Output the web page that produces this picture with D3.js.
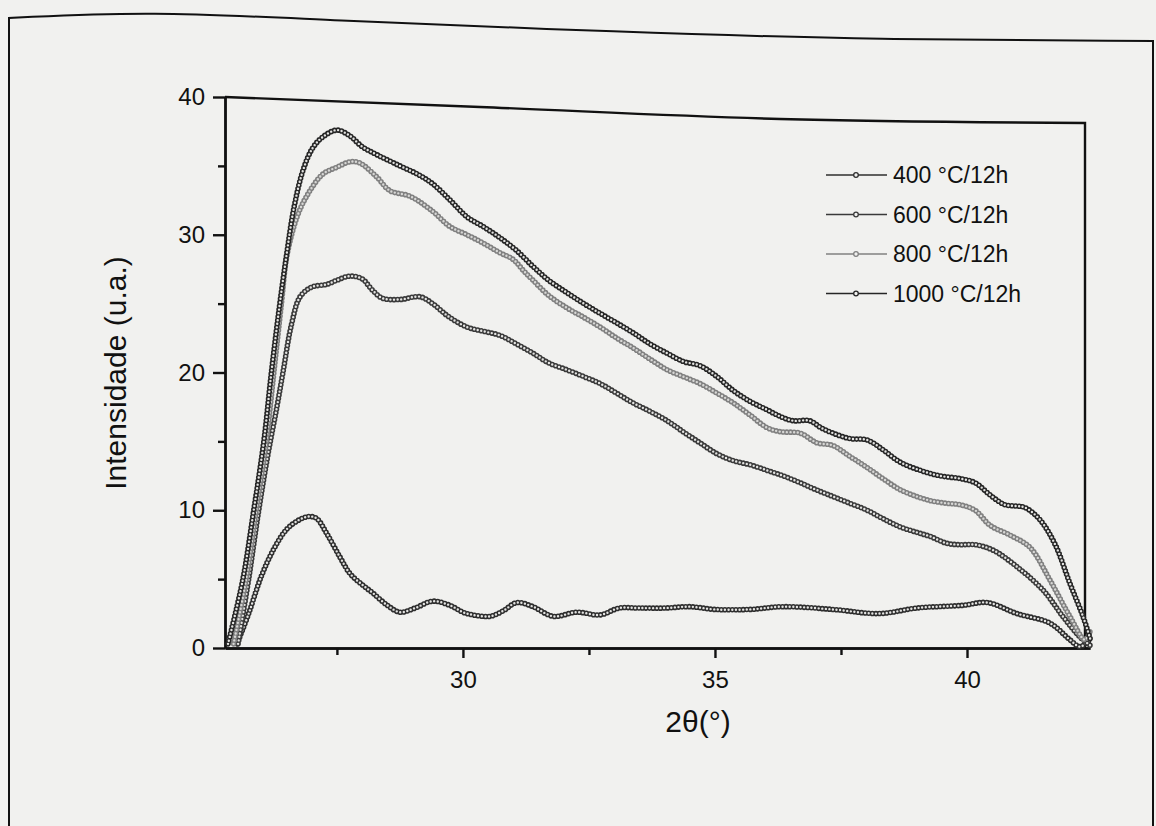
<!DOCTYPE html>
<html>
  <head>
    <meta charset="utf-8">
    <title>Intensidade x 2theta</title>
    <script src="https://d3js.org/d3.v7.min.js"></script>
    <style>
      body { margin: 0; background: #f1f1ef; }
      svg { display: block; font-family: "Liberation Sans", Arial, sans-serif; }
      .axis path, .axis line { stroke: #111; stroke-width: 2.4; }
      .axis text { font-family: "Liberation Sans", Arial, sans-serif; font-size: 24px; fill: #111; }
      .legend text { font-size: 23px; fill: #111; }
      .label { font-size: 30px; fill: #111; }
    </style>
  </head>
  <body>
    <script>
      // series names
      var seriesNames = ["400 °C/12h", "600 °C/12h", "800 °C/12h", "1000 °C/12h"];
      var seriesColors = ["#2e2e2e", "#3a3a3a", "#808080", "#262626"];

      // 2theta values and intensities
      var t400 = [25.52, 25.75, 26.0, 26.25, 26.5, 26.75, 26.95, 27.1, 27.3, 27.56, 27.76, 28.0, 28.21, 28.5, 28.75, 29.05, 29.4, 29.74, 30.0, 30.2, 30.54, 30.8, 31.07, 31.39, 31.79, 32.26, 32.72, 33.1, 33.5, 34.0, 34.5, 35.0, 35.69, 36.35, 37.34, 38.27, 39.0, 39.92, 40.4, 40.99, 41.65, 42.04, 42.24, 42.44];
      var i400 = [0.3, 2.5, 5.2, 7.2, 8.6, 9.3, 9.55, 9.4, 8.3, 6.6, 5.4, 4.6, 4.0, 3.1, 2.6, 2.9, 3.4, 3.1, 2.6, 2.4, 2.3, 2.7, 3.3, 3.0, 2.3, 2.6, 2.4, 2.9, 2.9, 2.9, 3.0, 2.8, 2.8, 3.0, 2.8, 2.5, 2.9, 3.1, 3.3, 2.5, 1.8, 0.6, 0.1, 0.6];

      var t600 = [25.54, 25.75, 25.95, 26.13, 26.31, 26.43, 26.6, 26.77, 27.0, 27.3, 27.5, 27.76, 28.0, 28.2, 28.4, 28.75, 29.15, 29.4, 29.7, 30.08, 30.4, 30.73, 31.05, 31.39, 31.7, 32.06, 32.4, 32.72, 33.05, 33.37, 33.7, 34.05, 34.37, 34.7, 35.04, 35.36, 35.7, 36.03, 36.35, 36.69, 37.0, 37.34, 37.68, 38.02, 38.33, 38.67, 39.0, 39.27, 39.6, 39.86, 40.16, 40.52, 40.99, 41.51, 41.9, 42.24, 42.44];
      var i600 = [0.3, 5, 10, 14, 17.5, 20, 23.5, 25.5, 26.2, 26.4, 26.7, 27.0, 26.8, 26.0, 25.4, 25.3, 25.5, 25.0, 24.1, 23.3, 23.0, 22.7, 22.1, 21.4, 20.7, 20.2, 19.7, 19.2, 18.5, 17.8, 17.2, 16.5, 15.7, 14.9, 14.1, 13.6, 13.3, 12.9, 12.5, 12.0, 11.5, 11.0, 10.5, 10.0, 9.4, 8.8, 8.4, 8.1, 7.6, 7.5, 7.5, 7.1, 5.9, 4.2, 2.3, 0.8, 0.2];

      var t800 = [25.45, 25.7, 25.9, 26.1, 26.25, 26.4, 26.51, 26.71, 26.9, 27.22, 27.5, 27.76, 27.96, 28.29, 28.55, 28.95, 29.4, 29.74, 30.08, 30.4, 30.73, 31.0, 31.2, 31.39, 31.7, 32.06, 32.4, 32.72, 33.05, 33.37, 33.7, 34.05, 34.37, 34.7, 35.04, 35.36, 35.7, 36.03, 36.3, 36.69, 37.02, 37.34, 37.68, 38.02, 38.33, 38.67, 39.0, 39.27, 39.6, 39.86, 40.16, 40.46, 40.85, 41.25, 41.65, 42.04, 42.34, 42.45];
      var i800 = [0.3, 5, 10, 15, 20, 25, 28.5, 31.3, 32.8, 34.4, 34.9, 35.3, 35.2, 34.2, 33.2, 32.8, 31.7, 30.6, 30.0, 29.4, 28.7, 28.2, 27.4, 26.7, 25.6, 24.7, 24.0, 23.3, 22.5, 21.8, 21.0, 20.2, 19.7, 19.2, 18.5, 17.8, 16.9, 16.0, 15.7, 15.6, 14.9, 14.7, 13.9, 13.1, 12.3, 11.5, 11.0, 10.7, 10.5, 10.4, 10.0, 8.9, 8.2, 7.3, 4.9, 2.3, 0.6, 1.3];

      var t1000 = [25.34, 25.63, 25.85, 26.05, 26.2, 26.35, 26.5, 26.65, 26.83, 27.02, 27.22, 27.5, 27.75, 28.0, 28.3, 28.75, 29.1, 29.4, 29.75, 30.08, 30.4, 30.73, 31.05, 31.39, 31.7, 32.06, 32.4, 32.72, 33.05, 33.37, 33.7, 34.05, 34.37, 34.7, 35.04, 35.36, 35.7, 36.03, 36.3, 36.55, 36.88, 37.1, 37.34, 37.68, 38.02, 38.33, 38.67, 39.07, 39.46, 39.86, 40.16, 40.46, 40.75, 41.0, 41.15, 41.45, 41.75, 42.04, 42.3, 42.45];
      var i1000 = [0.3, 4.9, 10, 15, 20, 24.5, 28.5, 32, 34.7, 36.3, 37.1, 37.6, 37.2, 36.4, 35.8, 35.0, 34.4, 33.7, 32.5, 31.3, 30.6, 29.8, 28.9, 27.7, 26.7, 25.8, 25.0, 24.3, 23.6, 22.9, 22.1, 21.4, 20.8, 20.5, 19.7, 18.7, 17.9, 17.3, 16.8, 16.5, 16.5, 16.0, 15.6, 15.2, 15.1, 14.4, 13.5, 12.9, 12.5, 12.3, 12.0, 11.1, 10.4, 10.3, 10.2, 9.3, 7.5, 4.7, 2.3, 0.6];

      var xMajorTicks = [30, 35, 40];
      var xMinorTicks = [27.5, 32.5, 37.5];
      var yMajorTicks = [0, 10, 20, 30, 40];
      var yMinorTicks = [5, 15, 25, 35];

      var series = [
        { name: seriesNames[0], color: seriesColors[0], x: t400, y: i400 },
        { name: seriesNames[1], color: seriesColors[1], x: t600, y: i600 },
        { name: seriesNames[2], color: seriesColors[2], x: t800, y: i800 },
        { name: seriesNames[3], color: seriesColors[3], x: t1000, y: i1000 }
      ];

      var W = 1156, H = 826, bg = "#f1f1ef";
      var plotL = 225, plotR = 1090, plotT = 97, plotB = 648;

      var svg = d3.select("body").append("svg")
                  .attr("width", W)
                  .attr("height", H);

      svg.append("rect").attr("width", W).attr("height", H).attr("fill", bg);

      // page frame of the scanned figure
      var frame = d3.line().curve(d3.curveBasis);
      svg.append("path")
         .attr("d", frame([[9, H], [9, H], [9, 18], [9, 18], [9, 18], [150, 11], [320, 20], [620, 32], [880, 40], [1153, 41], [1153, 41], [1153, 41], [1153, H], [1153, H]]))
         .attr("fill", "none")
         .attr("stroke", "#111")
         .attr("stroke-width", 2);

      var x = d3.scaleLinear().domain([25.28, 42.44]).range([plotL, plotR]);
      var y = d3.scaleLinear().domain([0, 40]).range([plotB, plotT]);

      // box top and right side; the scanned page droops toward the top right
      svg.append("path")
         .attr("d", d3.line().curve(d3.curveMonotoneX)([[plotL, plotT], [480, plotT + 10], [780, plotT + 22], [plotR - 5, plotT + 26]]) +
                    "L" + (plotR - 5) + "," + plotB)
         .attr("fill", "none").attr("stroke", "#111").attr("stroke-width", 2.4);

      // y axis
      svg.append("g").attr("class", "axis")
         .attr("transform", "translate(" + plotL + ",0)")
         .call(d3.axisLeft(y).tickValues(yMajorTicks).tickSize(12).tickSizeOuter(0).tickPadding(8));
      svg.append("g").attr("class", "axis")
         .attr("transform", "translate(" + plotL + ",0)")
         .call(d3.axisLeft(y).tickValues(yMinorTicks).tickSize(7).tickSizeOuter(0).tickFormat(""));

      // x axis
      svg.append("g").attr("class", "axis")
         .attr("transform", "translate(0," + plotB + ")")
         .call(d3.axisBottom(x).tickValues(xMajorTicks).tickSize(10).tickSizeOuter(0).tickPadding(13));
      svg.append("g").attr("class", "axis")
         .attr("transform", "translate(0," + plotB + ")")
         .call(d3.axisBottom(x).tickValues(xMinorTicks).tickSize(7).tickSizeOuter(0).tickFormat(""));

      // curves drawn as chains of small open circles
      var line = d3.line()
                   .x(function(d) { return x(d[0]); })
                   .y(function(d) { return y(d[1]); })
                   .curve(d3.curveCatmullRom.alpha(0.5));

      var plot = svg.append("g");
      series.forEach(function(s) {
        var pts = d3.zip(s.x, s.y);
        var d = line(pts);
        plot.append("path").attr("d", d).attr("fill", "none")
            .attr("stroke", s.color).attr("stroke-width", 1.2);
        plot.append("path").attr("d", d).attr("fill", "none")
            .attr("stroke", s.color).attr("stroke-width", 5.6)
            .attr("stroke-linecap", "round").attr("stroke-dasharray", "0 3.6");
        plot.append("path").attr("d", d).attr("fill", "none")
            .attr("stroke", s.name.indexOf("800") === 0 ? "#d8d8d6" : "#e4e4e2")
            .attr("stroke-width", 2.4)
            .attr("stroke-linecap", "round").attr("stroke-dasharray", "0 3.6");
      });

      // legend
      var legend = svg.append("g").attr("class", "legend");
      series.forEach(function(s, i) {
        var ly = 175 + i * 39.5;
        legend.append("line")
              .attr("x1", 826).attr("x2", 887).attr("y1", ly).attr("y2", ly)
              .attr("stroke", s.color).attr("stroke-width", 1.6);
        legend.append("circle")
              .attr("cx", 856).attr("cy", ly).attr("r", 2.3)
              .attr("fill", bg).attr("stroke", s.color).attr("stroke-width", 1.3);
        legend.append("text")
              .attr("x", 893).attr("y", ly + 8)
              .text(s.name);
      });

      // axis titles
      svg.append("text").attr("class", "label")
         .attr("transform", "translate(126,373) rotate(-90)")
         .attr("text-anchor", "middle")
         .text("Intensidade (u.a.)");
      svg.append("text").attr("class", "label")
         .attr("x", 698).attr("y", 732)
         .attr("text-anchor", "middle")
         .text("2θ(°)");
    </script>
  </body>
</html>
